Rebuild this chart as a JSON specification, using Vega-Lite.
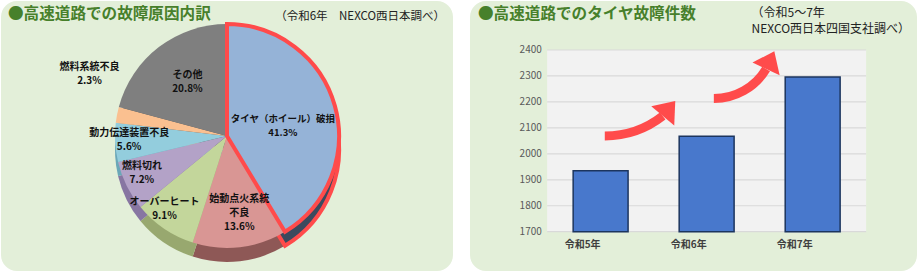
{
  "$schema": "https://vega.github.io/schema/vega-lite/v6.json",
  "background": "#ffffff",
  "padding": {"left": 1, "top": 1, "right": 3, "bottom": 4},
  "spacing": 17,
  "config": {
    "view": {"fill": "#e3efd9", "stroke": null, "cornerRadius": 16},
    "font": "Noto Sans CJK JP",
    "title": {"font": "Noto Sans CJK JP", "fontSize": 15.6, "fontWeight": "bold", "color": "#47802b", "anchor": "start", "frame": "group", "offset": -22, "dx": 7},
    "text": {"font": "Noto Sans CJK JP", "fontSize": 10, "fontWeight": "bold", "lineBreak": "\n", "lineHeight": 14, "color": "#111111"},
    "axis": {"labelFont": "Noto Sans CJK JP"}
  },
  "hconcat": [
    {
      "width": 452,
      "height": 270,
      "title": {"text": "●高速道路での故障原因内訳"},
      "data": {"values": [
        {"n": 1, "cause": "タイヤ（ホイール）破損", "pct": 41.3, "label": "タイヤ（ホイール）破損\n41.3%"},
        {"n": 2, "cause": "始動点火系統不良", "pct": 13.6, "label": "始動点火系統\n不良\n13.6%"},
        {"n": 3, "cause": "オーバーヒート", "pct": 9.1, "label": "オーバーヒート\n9.1%"},
        {"n": 4, "cause": "燃料切れ", "pct": 7.2, "label": "燃料切れ\n7.2%"},
        {"n": 5, "cause": "動力伝達装置不良", "pct": 5.6, "label": "動力伝達装置不良\n5.6%"},
        {"n": 6, "cause": "燃料系統不良", "pct": 2.3, "label": "燃料系統不良\n2.3%"},
        {"n": 7, "cause": "その他", "pct": 20.8, "label": "その他\n20.8%"}
      ]},
      "layer": [
        {
          "mark": {"type": "arc", "outerRadius": 112, "yOffset": 14},
          "encoding": {
            "theta": {"field": "pct", "type": "quantitative", "stack": true},
            "order": {"field": "n", "type": "quantitative"},
            "fill": {"field": "cause", "type": "nominal", "legend": null,
              "scale": {"domain": ["タイヤ（ホイール）破損", "始動点火系統不良", "オーバーヒート", "燃料切れ", "動力伝達装置不良", "燃料系統不良", "その他"],
                        "range": ["#3b4a5e", "#8e5856", "#98a86f", "#8776a2", "#6aa7b8", "#d99b6b", "#555555"]}}
          }
        },
        {
          "transform": [{"filter": "datum.n === 1"}],
          "mark": {"type": "arc", "outerRadius": 112, "yOffset": 14, "fillOpacity": 0, "stroke": "#ff4b4b", "strokeWidth": 4, "strokeJoin": "miter"},
          "encoding": {
            "theta": {"field": "pct", "type": "quantitative", "stack": true},
            "order": {"field": "n", "type": "quantitative"}
          }
        },
        {
          "mark": {"type": "arc", "outerRadius": 112},
          "encoding": {
            "theta": {"field": "pct", "type": "quantitative", "stack": true},
            "order": {"field": "n", "type": "quantitative"},
            "color": {"field": "cause", "type": "nominal", "legend": null,
              "scale": {"domain": ["タイヤ（ホイール）破損", "始動点火系統不良", "オーバーヒート", "燃料切れ", "動力伝達装置不良", "燃料系統不良", "その他"],
                        "range": ["#95b3d7", "#d99694", "#c3d69b", "#b3a2c7", "#93cddd", "#fac090", "#7f7f7f"]}}
          }
        },
        {
          "transform": [{"filter": "datum.n === 1"}],
          "mark": {"type": "arc", "outerRadius": 112, "fillOpacity": 0, "stroke": "#ff4b4b", "strokeWidth": 4, "strokeJoin": "miter"},
          "encoding": {
            "theta": {"field": "pct", "type": "quantitative", "stack": true},
            "order": {"field": "n", "type": "quantitative"}
          }
        },
        {
          "mark": {"type": "text", "radius": 58, "dy": -1, "fontSize": 9.5},
          "encoding": {
            "theta": {"field": "pct", "type": "quantitative", "stack": true},
            "order": {"field": "n", "type": "quantitative"},
            "text": {"condition": {"test": "datum.n === 1", "field": "label", "type": "nominal"}, "value": ""}
          }
        },
        {
          "mark": {"type": "text", "radius": 65, "dy": -9},
          "encoding": {
            "theta": {"field": "pct", "type": "quantitative", "stack": true},
            "order": {"field": "n", "type": "quantitative"},
            "text": {"condition": {"test": "datum.n === 7", "field": "label", "type": "nominal"}, "value": ""}
          }
        },
        {
          "mark": {"type": "text", "radius": 80, "dx": 3, "dy": -16},
          "encoding": {
            "theta": {"field": "pct", "type": "quantitative", "stack": true},
            "order": {"field": "n", "type": "quantitative"},
            "text": {"condition": {"test": "datum.n === 2", "field": "label", "type": "nominal"}, "value": ""}
          }
        },
        {
          "mark": {"type": "text", "radius": 88, "dx": -13, "dy": -7},
          "encoding": {
            "theta": {"field": "pct", "type": "quantitative", "stack": true},
            "order": {"field": "n", "type": "quantitative"},
            "text": {"condition": {"test": "datum.n === 3", "field": "label", "type": "nominal"}, "value": ""}
          }
        },
        {
          "mark": {"type": "text", "radius": 95, "dy": -12},
          "encoding": {
            "theta": {"field": "pct", "type": "quantitative", "stack": true},
            "order": {"field": "n", "type": "quantitative"},
            "text": {"condition": {"test": "datum.n === 4", "field": "label", "type": "nominal"}, "value": ""}
          }
        },
        {
          "mark": {"type": "text", "radius": 98, "dy": -9},
          "encoding": {
            "theta": {"field": "pct", "type": "quantitative", "stack": true},
            "order": {"field": "n", "type": "quantitative"},
            "text": {"condition": {"test": "datum.n === 5", "field": "label", "type": "nominal"}, "value": ""}
          }
        },
        {
          "mark": {"type": "text", "radius": 140, "dy": -43, "clip": true},
          "encoding": {
            "theta": {"field": "pct", "type": "quantitative", "stack": true},
            "order": {"field": "n", "type": "quantitative"},
            "text": {"condition": {"test": "datum.n === 6", "field": "label", "type": "nominal"}, "value": ""}
          }
        },
        {
          "data": {"values": [{"note": "（令和6年　NEXCO西日本調べ）"}]},
          "mark": {"type": "text", "align": "right", "baseline": "middle", "dx": -8, "dy": 16, "fontSize": 11.5, "fontWeight": "normal", "color": "#222222"},
          "encoding": {
            "x": {"value": "width"},
            "y": {"value": 0},
            "text": {"field": "note", "type": "nominal"}
          }
        }
      ]
    },
    {
      "width": 447,
      "height": 270,
      "title": {"text": "●高速道路でのタイヤ故障件数", "dx": 8},
      "layer": [
        {
          "data": {"values": [{}]},
          "mark": {"type": "rect", "fill": "#f2f2f2", "xOffset": -26, "x2Offset": 26},
          "encoding": {
            "x": {"datum": "令和5年", "bandPosition": 0},
            "x2": {"datum": "令和7年", "bandPosition": 1},
            "y": {"datum": 1700},
            "y2": {"datum": 2400}
          }
        },
        {
          "data": {"values": [{"g": 1700}, {"g": 1800}, {"g": 1900}, {"g": 2000}, {"g": 2100}, {"g": 2200}, {"g": 2300}, {"g": 2400}]},
          "mark": {"type": "rule", "color": "#d9d9d9", "strokeWidth": 1.2, "xOffset": -26, "x2Offset": 26},
          "encoding": {
            "y": {"field": "g", "type": "quantitative",
              "axis": {"title": null, "values": [1700, 1800, 1900, 2000, 2100, 2200, 2300, 2400], "tickCount": 10, "format": "d", "labelOverlap": false, "offset": -77.3, "domain": false, "ticks": false, "grid": false, "labelPadding": 6, "labelFontSize": 10, "labelColor": "#595959"}},
            "x": {"datum": "令和5年", "bandPosition": 0},
            "x2": {"datum": "令和7年", "bandPosition": 1}
          }
        },
        {
          "data": {"values": [
            {"year": "令和5年", "count": 1935},
            {"year": "令和6年", "count": 2068},
            {"year": "令和7年", "count": 2296}
          ]},
          "mark": {"type": "bar", "fill": "#4878cc", "stroke": "#1c355e", "strokeWidth": 1.5},
          "encoding": {
            "x": {"field": "year", "type": "nominal",
              "scale": {"type": "band", "domain": ["令和5年", "令和6年", "令和7年"], "paddingInner": 0.482, "paddingOuter": 0.849, "align": 0.573},
              "axis": {"title": null, "offset": -39.3, "domain": false, "ticks": false, "labelAngle": 0, "labelPadding": 13, "labelFontSize": 10, "labelFontWeight": "bold", "labelColor": "#404040"}},
            "y": {"field": "count", "type": "quantitative",
              "scale": {"domain": [1548.6, 2588.7], "nice": false, "zero": false},
              "axis": {"title": null, "values": [1700, 1800, 1900, 2000, 2100, 2200, 2300, 2400], "tickCount": 10, "format": "d", "labelOverlap": false, "offset": -77.3, "domain": false, "ticks": false, "grid": false, "labelPadding": 6, "labelFontSize": 10, "labelColor": "#595959"}},
            "y2": {"datum": 1700}
          }
        },
        {
          "data": {"values": [{}]},
          "mark": {"type": "arc", "theta": 2.478, "theta2": 3.1416, "outerRadius": 98.5, "innerRadius": 89.5, "fill": "#ff4b4b"},
          "encoding": {
            "x": {"datum": "令和5年", "bandPosition": 0.576},
            "y": {"datum": 2431}
          }
        },
        {
          "data": {"values": [{}]},
          "mark": {"type": "point", "shape": "M-1,0L0,-1.3L1,0Z", "size": 900, "angle": 40, "filled": true, "fill": "#ff4b4b", "opacity": 1, "strokeWidth": 0},
          "encoding": {
            "x": {"datum": "令和5年", "bandPosition": 1.631},
            "y": {"datum": 2146}
          }
        },
        {
          "data": {"values": [{}]},
          "mark": {"type": "arc", "theta": 2.112, "theta2": 3.1416, "outerRadius": 65.5, "innerRadius": 56.5, "fill": "#ff4b4b"},
          "encoding": {
            "x": {"datum": "令和6年", "bandPosition": 0.631},
            "y": {"datum": 2448}
          }
        },
        {
          "data": {"values": [{}]},
          "mark": {"type": "point", "shape": "M-1,0L0,-1.3L1,0Z", "size": 900, "angle": 25, "filled": true, "fill": "#ff4b4b", "opacity": 1, "strokeWidth": 0},
          "encoding": {
            "x": {"datum": "令和6年", "bandPosition": 1.582},
            "y": {"datum": 2327}
          }
        },
        {
          "data": {"values": [{"note": "（令和5～7年\n\u2002NEXCO西日本四国支社調べ）"}]},
          "mark": {"type": "text", "align": "left", "baseline": "top", "fontSize": 12, "fontWeight": "normal", "color": "#222222", "lineHeight": 16.5},
          "encoding": {
            "x": {"datum": "令和7年", "bandPosition": -0.613},
            "y": {"datum": 2562},
            "text": {"field": "note", "type": "nominal"}
          }
        }
      ]
    }
  ]
}
